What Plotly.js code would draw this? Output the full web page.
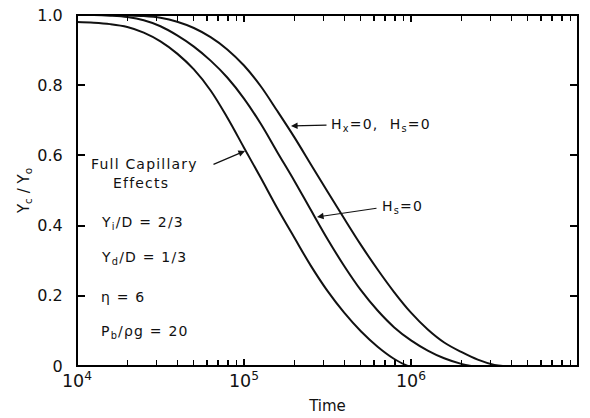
<!DOCTYPE html>
<html>
<head>
<meta charset="utf-8">
<script src="https://cdn.plot.ly/plotly-3.0.1.min.js"></script>
<style>
html,body{margin:0;padding:0;background:#fff;}
.annotation-text{letter-spacing:1.2px;}
</style>
</head>
<body>
<div id="chart"></div>
<script>
// Time values (log axis) and Yc/Yo for each curve
var timeFull = [1.00e4, 1.26e4, 1.58e4, 2.00e4, 2.51e4, 3.16e4, 3.98e4, 5.01e4, 6.31e4, 7.94e4,
                1.00e5, 1.26e5, 1.58e5, 2.00e5, 2.51e5, 3.16e5, 3.98e5, 5.01e5, 6.31e5, 7.94e5, 9.55e5];
var yFull    = [0.980, 0.978, 0.974, 0.966, 0.950, 0.925, 0.890, 0.845, 0.785, 0.708,
                0.622, 0.536, 0.450, 0.366, 0.286, 0.214, 0.152, 0.099, 0.055, 0.020, 0.0];

var timeHs = [1.00e4, 1.26e4, 1.58e4, 2.00e4, 2.51e4, 3.16e4, 3.98e4, 5.01e4, 6.31e4, 7.94e4,
              1.00e5, 1.26e5, 1.58e5, 2.00e5, 2.51e5, 3.16e5, 3.98e5, 5.01e5, 6.31e5, 7.94e5,
              1.00e6, 1.26e6, 1.58e6, 2.00e6, 2.29e6];
var yHs    = [1.000, 1.000, 0.998, 0.994, 0.985, 0.968, 0.942, 0.910, 0.870, 0.822,
              0.762, 0.690, 0.610, 0.528, 0.445, 0.362, 0.285, 0.216, 0.158, 0.110,
              0.073, 0.044, 0.022, 0.006, 0.0];

var timeHxHs = [1.00e4, 1.26e4, 1.58e4, 2.00e4, 2.51e4, 3.16e4, 3.98e4, 5.01e4, 6.31e4, 7.94e4,
                1.00e5, 1.26e5, 1.58e5, 2.00e5, 2.51e5, 3.16e5, 3.98e5, 5.01e5, 6.31e5, 7.94e5,
                1.00e6, 1.26e6, 1.58e6, 2.00e6, 2.51e6, 3.16e6, 3.55e6];
var yHxHs    = [1.000, 1.000, 1.000, 0.999, 0.997, 0.992, 0.981, 0.963, 0.937, 0.902,
                0.856, 0.797, 0.727, 0.652, 0.575, 0.497, 0.420, 0.345, 0.275, 0.210,
                0.152, 0.104, 0.067, 0.040, 0.018, 0.003, 0.0];

// axis tick settings (decade ticks on x, 0.2 steps on y)
var xTickStep = 1;      // one decade
var yTickStep = 0.2;
var yLabelAlias = {'0.0': '0'};

var lineStyle = {color: '#111', width: 2, shape: 'spline', smoothing: 1};
var traces = [
  {x: timeFull, y: yFull, mode: 'lines', line: lineStyle, name: 'Full Capillary Effects'},
  {x: timeHs, y: yHs, mode: 'lines', line: lineStyle, name: 'Hs=0'},
  {x: timeHxHs, y: yHxHs, mode: 'lines', line: lineStyle, name: 'Hx=0, Hs=0'}
];

function lx(px) { return 4 + (px - 77) / 167; }
function ly(py) { return (366 - py) / 351; }
var fnt = {family: 'DejaVu Sans, sans-serif', size: 14, color: '#111'};
var arrowBase = {xref: 'x', yref: 'y', text: '', showarrow: true, arrowhead: 2, arrowsize: 1.1, arrowwidth: 1.2, arrowcolor: '#111', standoff: 0};
function arrow(tipX, tipY, ax, ay) { return Object.assign({}, arrowBase, {x: lx(tipX), y: ly(tipY), ax: ax, ay: ay}); }
function label(px, py, text, anchor) {
  return {x: lx(px), y: ly(py), xref: 'x', yref: 'y', text: text, showarrow: false, xanchor: anchor || 'left', yanchor: 'middle', font: fnt};
}
var annotations = [
  arrow(291, 126, 37, -1),
  label(329, 125, 'H<sub>x</sub>=0,  H<sub>s</sub>=0'),
  arrow(317, 217, 61, -9),
  label(380, 207, 'H<sub>s</sub>=0'),
  arrow(245, 151, -33, 14),
  label(144, 164, 'Full Capillary', 'center'),
  label(141, 183, 'Effects', 'center'),
  label(99, 223, 'Y<sub>i</sub>/D = 2/3'),
  label(99, 258, 'Y<sub>d</sub>/D = 1/3'),
  label(99, 297, 'η = 6'),
  label(99, 332, 'P<sub>b</sub>/ρg = 20')
];

var noGrid = 'rgba(0,0,0,0)';
var layout = {
  width: 590, height: 418,
  margin: {l: 77, r: 12, t: 15, b: 52},
  showlegend: false,
  font: {family: 'DejaVu Sans, sans-serif', size: 14},
  xaxis: {
    type: 'log', range: [4, 7],
    tickmode: 'linear', tick0: 0, dtick: xTickStep, exponentformat: 'power',
    ticks: 'inside', ticklen: 7, tickwidth: 2, tickcolor: 'black',
    minor: {ticks: 'inside', ticklen: 6, tickwidth: 1.5, tickcolor: 'black', dtick: 'D1', gridcolor: noGrid},
    showline: true, linecolor: 'black', mirror: 'ticks',
    gridcolor: noGrid,
    tickfont: {size: 14, color: '#111'},
    title: {text: 'Time', font: {size: 15, color: '#111'}, standoff: 10}
  },
  yaxis: {
    range: [0, 1],
    tickmode: 'linear', tick0: 0, dtick: yTickStep, tickformat: '.1f', labelalias: yLabelAlias,
    ticks: 'inside', ticklen: 8, tickwidth: 2, tickcolor: 'black',
    showline: true, linecolor: 'black', mirror: 'ticks',
    gridcolor: noGrid, zerolinecolor: 'black',
    tickfont: {size: 16, color: '#111'}, ticklabelstandoff: 10,
    title: {text: 'Y<sub>c</sub> / Y<sub>o</sub>', font: {size: 15, color: '#111'}, standoff: 4}
  },
  // heavier frame around the plot area, like the thick axis lines of the original
  shapes: [{type: 'rect', xref: 'paper', yref: 'paper', x0: 0, x1: 1, y0: 0, y1: 1,
            line: {color: 'black', width: 2}, fillcolor: 'rgba(0,0,0,0)', layer: 'above'}],
  annotations: annotations
};

Plotly.newPlot('chart', traces, layout, {staticPlot: true});
</script>
</body>
</html>
